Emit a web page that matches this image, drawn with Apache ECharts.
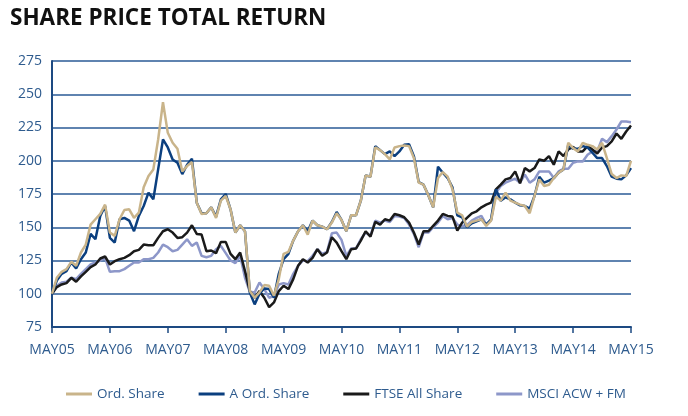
<!DOCTYPE html>
<html>
<head>
<meta charset="utf-8">
<script src="https://cdn.jsdelivr.net/npm/echarts@6/dist/echarts.min.js"></script>
<style>
  html, body { margin: 0; padding: 0; background: #fff; }
  #chart { width: 688px; height: 416px; }
</style>
</head>
<body>
<div id="chart"></div>
<script>
// monthly index values, May 2005 = 100 (month 0) .. May 2015 (month 120)
var yearLabels = ['MAY05', 'MAY06', 'MAY07', 'MAY08', 'MAY09', 'MAY10', 'MAY11', 'MAY12', 'MAY13', 'MAY14', 'MAY15']

var ordShare = [
  100, 112, 116.5, 118.5, 124, 121, 131, 137, 152, 156, 160, 167,
  146, 143.5, 156, 163, 163.5, 157, 161, 180, 188.5, 193.5, 216, 244,
  221, 213.5, 209, 192, 196, 199, 168.5, 160, 160.5, 165, 157, 170,
  173.5, 163.5, 146, 151.5, 147, 102, 97, 101, 106.5, 106, 98.5, 111,
  130, 131.5, 140, 147, 151.5, 144.5, 155, 151.5, 150.5, 148.5, 153.5, 160.5,
  155.5, 147, 159, 159, 170, 189, 188, 210, 208, 205, 201, 210,
  211, 211.5, 211, 202, 183.5, 182, 174, 165, 187, 191.5, 188, 178.5,
  161, 159, 150.5, 154, 155, 156, 151, 155, 173, 170, 176, 170,
  168.5, 167, 166, 160.5, 173.5, 186, 181, 182, 187, 191, 193.5, 213.5,
  209.5, 207, 213.5, 212, 211, 208.5, 213.5, 202, 190, 187, 189, 188.5,
  200
]

var aOrdShare = [
  100, 110, 115, 117, 123.5, 119, 126, 131, 145, 141, 158.5, 166,
  142, 138.5, 156, 157, 155, 147, 158.5, 166, 176, 171, 193.5, 216,
  210, 201, 198.5, 190, 197, 201.5, 168.5, 160.5, 160.5, 165, 158, 171,
  175, 163.5, 146, 151.5, 147, 101, 92, 100, 104, 103.5, 97, 115,
  126, 130, 140, 147, 151.5, 147, 155, 151.5, 150.5, 148.5, 154, 161.5,
  155.5, 147, 159, 159, 170, 189, 188, 211, 208, 205, 207, 203.5,
  207, 212, 212.5, 203.5, 184, 182, 174, 165, 195.5, 191, 187, 180,
  159, 157.5, 150, 153, 154.5, 156, 152, 156, 178.5, 170, 172.5, 171,
  168.5, 166.5, 166, 164, 173.5, 188, 183.5, 185, 187, 191, 193.5, 212,
  209, 209, 211, 210, 206, 202, 202, 196, 188, 186.5, 186, 189,
  194.5
]

var ftseAllShare = [
  100, 105, 107, 108, 112, 109, 113, 116.5, 120, 122, 126.5, 128,
  122, 124.5, 126, 127, 129, 132, 133, 137, 136.5, 136.5, 142, 147,
  148.5, 146, 142, 142.5, 146, 151.5, 145, 144.5, 132, 132.5, 130.5, 139,
  139, 130, 126, 131, 117, 102, 97, 102, 97, 90, 93.5, 102,
  106, 103.5, 111, 121, 126, 123.5, 127, 133.5, 128.5, 131, 142.5, 138.5,
  132, 126, 133.5, 134, 140, 147, 143, 154, 152, 156, 155, 160,
  159, 157.5, 153.5, 146, 137, 147, 147, 151, 155, 160, 158.5, 158,
  147.5, 153.5, 157, 160.5, 162, 165, 167, 168.5, 178.5, 182, 186, 187,
  192, 183, 194.5, 192, 194.5, 201, 200, 203.5, 197, 207, 203.5, 208.5,
  210.5, 207, 207, 211, 208.5, 205.5, 210, 211, 214.5, 220.5, 216.5, 222,
  226.5
]

var msciAcwFm = [
  100, 106, 108.5, 109, 112, 111, 115, 118.5, 122, 123.5, 125, 127,
  116.5, 117, 117, 118.5, 121, 123.5, 123.5, 126, 126, 127, 131, 137,
  135, 132, 133, 137, 141, 136, 138.5, 128.5, 127.5, 128.5, 133.5, 136,
  130.5, 125, 123, 128.5, 112, 101.5, 101, 108.5, 103.5, 97, 98.5, 107,
  108, 107, 115, 121, 125, 124.5, 128.5, 133.5, 130, 131.5, 145.5, 146,
  140.5, 128.5, 134, 134, 141, 146, 143.5, 155, 153.5, 155, 154, 158.5,
  158, 157, 152, 145, 135, 146, 146, 150, 153.5, 158.5, 156, 157,
  152, 151, 151.5, 155, 157, 158.5, 152, 155, 176, 181, 183.5, 185,
  186.5, 183.5, 189.5, 183.5, 186, 192, 192, 192, 187, 192, 194, 194,
  198.5, 199.5, 199.5, 204.5, 207, 207, 216.5, 214, 218.5, 223.5, 229.5, 229.5,
  229
]

var tickColor = '#2e5b8e'
var gridColor = '#5f83b0'
var axisColor = '#1d4a82'

function toPoints(arr) {
  return arr.map(function (v, i) { return [i, v] })
}

function lineSeries(name, data, color) {
  return {
    name: name,
    type: 'line',
    data: toPoints(data),
    showSymbol: false,
    symbol: 'none',
    color: color,
    lineStyle: { color: color, width: 2.5 },
    animation: false
  }
}

var chart = echarts.init(document.getElementById('chart'))
chart.setOption({
  backgroundColor: '#fff',
  title: {
    text: 'SHARE PRICE TOTAL RETURN',
    left: 5,
    top: 2,
    textStyle: {
      fontFamily: 'Open Sans',
      fontWeight: 'bold',
      fontSize: 22.5,
      color: '#111'
    }
  },
  grid: {
    left: 52,
    right: 57,
    top: 61,
    bottom: 89
  },
  legend: {
    data: ['Ord. Share', 'A Ord. Share', 'FTSE All Share', 'MSCI ACW + FM'],
    left: 61,
    bottom: 10,
    icon: 'rect',
    itemWidth: 26,
    itemHeight: 3,
    itemGap: 34,
    textStyle: { color: tickColor, fontSize: 13.5, fontFamily: 'Open Sans' }
  },
  xAxis: {
    type: 'value',
    min: 0,
    max: 120,
    interval: 12,
    axisLine: { lineStyle: { color: axisColor, width: 2 } },
    axisTick: { show: true, length: 6, lineStyle: { color: axisColor, width: 1.5 } },
    axisLabel: {
      color: tickColor,
      fontSize: 14,
      fontFamily: 'Open Sans',
      margin: 16,
      formatter: function (v) { return yearLabels[v / 12] || '' }
    },
    splitLine: { show: false }
  },
  yAxis: {
    type: 'value',
    min: 75,
    max: 275,
    interval: 25,
    axisLine: { show: true, lineStyle: { color: axisColor, width: 2 } },
    axisTick: { show: false },
    axisLabel: {
      color: tickColor,
      fontSize: 14,
      fontFamily: 'Open Sans',
      margin: 10
    },
    splitLine: { show: true, lineStyle: { color: gridColor, width: 2 } }
  },
  series: [
    lineSeries('MSCI ACW + FM', msciAcwFm, '#8d97c9'),
    lineSeries('FTSE All Share', ftseAllShare, '#1a1a1a'),
    lineSeries('A Ord. Share', aOrdShare, '#0b3f7f'),
    lineSeries('Ord. Share', ordShare, '#c9b48a')
  ]
})
</script>
</body>
</html>
